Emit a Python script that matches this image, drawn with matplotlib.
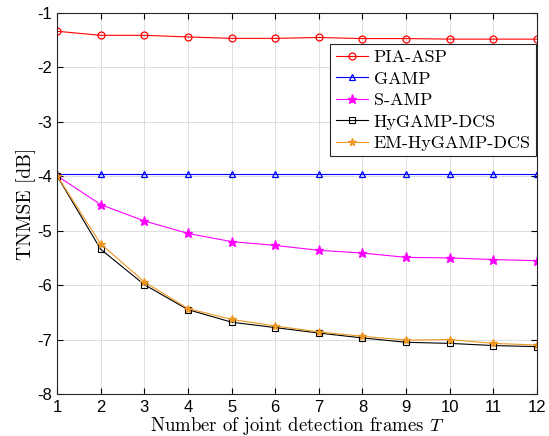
import matplotlib
matplotlib.use("Agg")
import matplotlib.pyplot as plt
import numpy as np

T = list(range(1, 13))
pia_asp = [-1.335, -1.41, -1.41, -1.44, -1.466, -1.466, -1.45, -1.47, -1.47, -1.48, -1.48, -1.48]
gamp = [-3.96] * 12
s_amp = [-3.99, -4.52, -4.82, -5.05, -5.20, -5.27, -5.36, -5.41, -5.49, -5.50, -5.53, -5.55]
hygamp_dcs = [-3.99, -5.34, -5.99, -6.45, -6.68, -6.78, -6.88, -6.97, -7.05, -7.07, -7.11, -7.13]
em_hygamp_dcs = [-3.99, -5.24, -5.94, -6.43, -6.63, -6.75, -6.86, -6.94, -7.01, -7.00, -7.07, -7.10]
yticks = [-1, -2, -3, -4, -5, -6, -7, -8]

plt.rcParams['mathtext.fontset'] = 'cm'
plt.rcParams['axes.unicode_minus'] = False
fig = plt.figure(figsize=(5.49, 4.36), dpi=100)
ax = fig.add_axes([57/549, 42/436, 480/549, 381/436])

orange = (0.93, 0.59, 0.13)
lw = 0.8
ax.plot(T, pia_asp, color='red', marker='o', mfc='none', ms=5, mew=0.9, lw=lw, label='PIA-ASP')
ax.plot(T, gamp, color='blue', marker='^', mfc='none', ms=5, mew=0.9, lw=lw, label='GAMP')
ax.plot(T, s_amp, color='magenta', marker='*', mfc='magenta', ms=6.5, lw=lw, label='S-AMP')
ax.plot(T, hygamp_dcs, color='black', marker='s', mfc='none', ms=4.5, mew=0.8, lw=lw, label='HyGAMP-DCS')
ax.plot(T, em_hygamp_dcs, color=orange, marker='*', mfc=orange, ms=5.5, lw=lw, label='EM-HyGAMP-DCS')

ax.set_xlim(1, 12)
ax.set_ylim(-8, -1)
ax.set_xticks(T)
ax.set_yticks(yticks)
ax.grid(True, color=(0.87, 0.87, 0.87), lw=0.7)
ax.set_axisbelow(True)
ax.tick_params(direction='in', top=True, right=True, labelsize=12, length=4)
ax.tick_params(axis='x', pad=4.5)
for lab in ax.get_xticklabels() + ax.get_yticklabels():
    lab.set_fontfamily('Liberation Sans')
for s in ax.spines.values():
    s.set_color((0.15, 0.15, 0.15))
    s.set_linewidth(0.8)

ax.set_xlabel('Number of joint detection frames $T$', family='cmr10', fontsize=13.5, labelpad=0)
ax.set_ylabel('TNMSE [dB]', family='cmr10', fontsize=14, labelpad=1)

leg = ax.legend(loc='upper right', bbox_to_anchor=(0.998, 0.918), prop={'family': 'cmr10', 'size': 13},
                fancybox=False, edgecolor=(0.15, 0.15, 0.15), framealpha=1,
                handlelength=1.8, handletextpad=0.3, labelspacing=0.32, borderpad=0.3, borderaxespad=0)
leg.get_frame().set_linewidth(0.8)

fig.savefig('out.png', dpi=100)
